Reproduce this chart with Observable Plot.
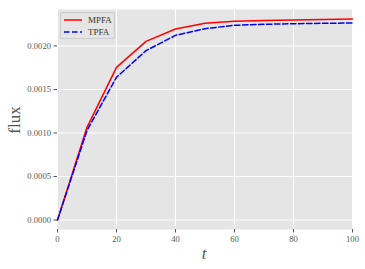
<!DOCTYPE html>
<html>
<head>
<meta charset="utf-8">
<script src="https://cdn.jsdelivr.net/npm/d3@7"></script>
<script src="https://cdn.jsdelivr.net/npm/@observablehq/plot@0.6"></script>
<style>
  html, body { margin: 0; padding: 0; background: #fff; }
  #wrap { position: relative; width: 365px; height: 269px; }
  #legend {
    position: absolute; left: 60px; top: 12px; width: 53px; height: 25px;
    background: #e5e5e5; border: 1px solid #cccccc; border-radius: 2px;
    font-family: "Liberation Serif", serif; font-size: 9px; color: #333;
  }
  #legend .row { position: absolute; left: 3px; height: 10px; display: flex; align-items: center; }
  #legend svg { display: block; }
  #legend span { margin-left: 6px; }
</style>
</head>
<body>
<div id="wrap"></div>
<script>
const t = [0, 10, 20, 30, 40, 50, 60, 70, 80, 90, 100];
const mpfa = [0, 0.001065, 0.001754, 0.002053, 0.002195, 0.002262, 0.002283, 0.002292, 0.002298, 0.002304, 0.002310];
const tpfa = [0, 0.001028, 0.001640, 0.001946, 0.002122, 0.002199, 0.002237, 0.002249, 0.002256, 0.002260, 0.002264];
const seriesNames = ["MPFA", "TPFA"];
const seriesColors = ["#ff0000", "#0000ff"];
const xTicks = [0, 20, 40, 60, 80, 100];
const yTicks = [0, 0.0005, 0.0010, 0.0015, 0.0020];

const rowsM = t.map((x, i) => ({t: x, v: mpfa[i]}));
const rowsT = t.map((x, i) => ({t: x, v: tpfa[i]}));

const chart = Plot.plot({
  width: 365,
  height: 269,
  marginLeft: 57,
  marginRight: 13,
  marginTop: 9,
  marginBottom: 40,
  style: {fontFamily: "Liberation Serif, serif", fontSize: "8.6px", color: "#555", background: "#fff"},
  x: {domain: [0, 100], ticks: xTicks, tickSize: 3.5, tickPadding: 3, label: null},
  y: {domain: [-0.000109, 0.002419], ticks: yTicks, tickSize: 3.5, tickPadding: 3, tickFormat: d3.format(".4f"), label: null},
  marks: [
    Plot.frame({fill: "#e5e5e5", stroke: null}),
    Plot.gridX(xTicks, {stroke: "#fff", strokeOpacity: 1, strokeWidth: 1}),
    Plot.gridY(yTicks, {stroke: "#fff", strokeOpacity: 1, strokeWidth: 1}),
    Plot.axisX(xTicks, {tickSize: 3.5, tickPadding: 3, stroke: "#555", fill: "#555", label: null}),
    Plot.axisY(yTicks, {tickSize: 3.5, tickPadding: 3, stroke: "#555", fill: "#555", tickFormat: d3.format(".4f"), label: null}),
    Plot.line(rowsM, {x: "t", y: "v", stroke: seriesColors[0], strokeWidth: 1.5}),
    Plot.line(rowsT, {x: "t", y: "v", stroke: seriesColors[1], strokeWidth: 1.5, strokeDasharray: "5.5,2.5"})
  ]
});

const svg = d3.select(chart);
svg.append("text")
  .attr("transform", "translate(20,120) rotate(-90)")
  .attr("text-anchor", "middle")
  .attr("font-family", "Liberation Serif, serif")
  .attr("font-size", 17)
  .attr("fill", "#555")
  .text("flux");
svg.append("text")
  .attr("x", 204)
  .attr("y", 259)
  .attr("text-anchor", "middle")
  .attr("font-family", "Liberation Serif, serif")
  .attr("font-style", "italic")
  .attr("font-size", 17)
  .attr("fill", "#555")
  .text("t");

const wrap = document.getElementById("wrap");
wrap.appendChild(chart);

const legend = document.createElement("div");
legend.id = "legend";
seriesNames.forEach((name, i) => {
  const row = document.createElement("div");
  row.className = "row";
  row.style.top = (2 + i * 12) + "px";
  const dash = i === 1 ? 'stroke-dasharray="5.5,2.5"' : "";
  row.innerHTML = `<svg width="18" height="10"><line x1="0" y1="5" x2="18" y2="5" stroke="${seriesColors[i]}" stroke-width="1.5" ${dash}/></svg><span>${name}</span>`;
  legend.appendChild(row);
});
wrap.appendChild(legend);
</script>
</body>
</html>
